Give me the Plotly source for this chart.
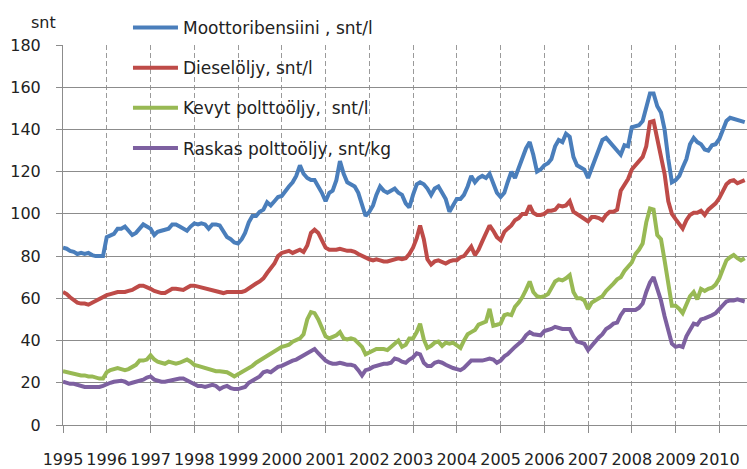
import plotly.graph_objects as go
import pandas as pd

series_names = [
    "Moottoribensiini , snt/l",
    "Dieselöljy, snt/l",
    "Kevyt polttoöljy,  snt/l",
    "Raskas polttoöljy, snt/kg",
]
series_colors = ["#4A7EBB", "#BE4B48", "#98B954", "#7D60A0"]

year_labels = [str(y) for y in range(1995, 2011)]

# Monthly values, Jan 1995 - Aug 2010
gasoline = [
    84, 83.5, 82.5, 82, 81, 81.5, 81, 81.5, 80.5, 80, 80, 80,
    89, 90, 90.5, 93, 93, 94, 92, 90, 91, 93, 95, 94,
    93, 90, 91.5, 92, 92.5, 93, 95, 95, 94, 93, 92, 94,
    95.5, 95, 95.5, 95, 93, 95, 95, 94.5, 92, 89, 88, 86.5,
    86, 88, 91, 96, 99, 99, 101, 102, 105.5, 104, 106, 108,
    108.5, 111, 113, 115, 118, 123, 119, 117, 116, 116, 113, 110,
    106, 110, 111, 116, 125, 119, 115, 114, 113, 110, 104, 99,
    101, 104, 109, 113, 111, 110, 111, 112, 110, 109, 105, 103,
    109, 114, 115, 114, 112, 109, 112, 113, 110, 107, 101, 104,
    107, 107, 109, 113, 118, 115, 117, 118, 117, 119, 114, 110,
    108, 110, 115, 120, 117, 122, 127, 131, 134, 128, 120, 121,
    123, 124, 126, 132, 135, 134, 138, 136.5, 127, 123, 122, 121,
    117, 122, 126, 131, 135, 136, 134, 132, 130, 128, 132.5, 132,
    141, 141.5, 142, 144, 150, 157, 157, 151, 148, 140, 126, 115,
    116, 118, 122, 126, 133, 136, 134, 133, 130.5, 130, 132.5, 133,
    135.5, 140, 144, 145.5, 145, 144.5, 144, 143.5,
]
diesel = [
    63, 62, 60.5, 59, 58, 57.5, 57.5, 57, 58, 58.5, 59.5, 60.5,
    61.5, 62, 62.5, 63, 63, 63, 63.5, 64, 65, 66, 66, 65.5,
    64.5, 63.5, 63, 62.5, 62.5, 63.5, 64.5, 64.5, 64, 64, 65, 66,
    66, 65.5, 65, 64.5, 64, 63.5, 63.5, 63, 62.5, 63, 63, 63,
    63, 63, 63.5, 64.5, 66, 67, 68, 69.5, 72, 74.5, 76.5, 80,
    81.5, 82, 82.5, 81.5, 82, 83, 82, 85, 91, 92.5, 91, 87,
    84, 83, 83, 83, 83.5, 83, 82.5, 82.5, 82, 81, 80, 79,
    78.5, 78, 78.5, 78, 77.5, 77.5, 78, 78.5, 79, 78.5, 79, 81,
    84, 88.5, 94.5, 88, 78.5, 76, 77.5, 78, 77, 76.5, 77.5, 78,
    78, 79.5, 80, 82, 84.5, 80.5, 83, 87, 90.5, 94.5, 92, 89,
    87.5, 91.5, 93, 94.5, 97, 98, 100, 100, 104, 100.5, 99.5, 99.5,
    100, 101.5, 101.5, 102, 104, 103.5, 104, 106, 101, 100, 99, 98,
    96.5, 98.5, 98.5, 98, 97, 99.5, 101, 101, 102, 111, 114, 116.5,
    121, 123, 125, 127, 132, 143.5, 144, 136, 128, 119, 106, 100,
    97.5, 95.5, 93, 97, 99.5, 100.5, 100.5, 101.5, 99.5, 102, 103.5, 105,
    107.5, 111, 114, 115.5, 116, 114.5, 115, 116,
]
light_fuel_oil = [
    25.5, 25, 24.5, 24, 24, 23.5, 23.5, 23, 23, 22.5, 22, 22,
    25, 26, 26.5, 27, 26.5, 26, 26.5, 27.5, 28.5, 30.5, 30.5, 31,
    33, 31, 30, 29.5, 29, 30, 29.5, 29, 29.5, 30, 31, 30,
    28.5, 28, 27.5, 27, 26.5, 26, 25.5, 25.5, 25, 25, 24, 23,
    24, 25, 26, 27, 28, 29.5, 30.5, 31.5, 33, 34, 35, 36,
    37, 37.5, 38, 39.5, 40.5, 41, 43, 50, 53.5, 53, 50, 45.5,
    42, 41, 41.5, 42.5, 44, 41, 40.5, 41, 40.5, 39, 37, 33.5,
    34.5, 35.5, 36, 36, 36, 35.5, 37, 38.5, 40, 37, 38, 41,
    41, 44, 48, 40.5, 36.5, 37.5, 39, 39.5, 37.5, 39, 38.5, 39,
    37.5, 36.5, 40, 43, 44, 45, 47.5, 48.5, 49, 55, 47, 47.5,
    48, 52, 52.5, 52, 56, 58, 60.5, 64, 68, 63, 61, 60.5,
    61, 62, 64.5, 68, 69, 68.5, 69.5, 71, 63, 60, 60, 59,
    55, 58, 59, 60, 61, 63.5, 65, 67, 69, 70, 73, 75,
    77, 81, 83, 86, 96, 102.5, 102, 90, 88, 78, 68, 56.5,
    56.5, 55, 53, 57, 61, 63, 59.5, 64.5, 63.5, 64.5, 65, 66.5,
    69.5, 74, 78, 79.5, 80.5, 79, 78, 79,
]
heavy_fuel_oil = [
    20.5, 20, 19.5, 19.5, 19, 18.5, 18, 18, 18, 18, 18, 18.5,
    19.5, 20, 20.5, 21, 21, 20.5, 19.5, 20, 20.5, 21, 21.5, 22.5,
    23, 21.5, 21, 20.5, 20.5, 21, 21, 21.5, 22, 22, 21, 20,
    19, 18.5, 18.5, 18, 18.5, 19, 18.5, 17, 18, 18.5, 17.5, 17,
    17, 17.5, 18, 20, 21, 22, 23, 25, 25.5, 25, 26.5, 27.5,
    28, 29, 29.5, 30.5, 31, 32, 32.5, 34, 35, 36, 34, 32,
    30.5, 29.5, 29, 29, 29.5, 29, 28.5, 28.5, 28, 26, 23.5, 26,
    26.5, 27.5, 28, 28.5, 29, 29, 29.5, 31.5, 31, 30, 29.5, 31,
    32, 34, 33.5, 29.5, 28, 28, 29.5, 30, 29.5, 28.5, 27.5, 27,
    26.5, 26, 27, 28.5, 30.5, 30.5, 30.5, 30.5, 31, 31.5, 31, 29.5,
    30.5, 32.5, 33.5, 35.5, 37, 38.5, 40, 42.5, 44, 43, 42.5, 42.5,
    44.5, 45, 45.5, 46.5, 46, 45.5, 45.5, 45.5, 42, 39.5, 39, 38.5,
    35.5, 37.5, 40, 41.5, 43, 45.5, 46.5, 48, 48.5, 52, 54.5, 54.5,
    54.5, 54.5, 55.5, 57.5, 63, 67.5, 70, 65, 59, 51.5, 44, 38.5,
    37, 37.5, 37, 42, 45, 48, 47.5, 50, 50.5, 51, 52, 53,
    55, 57, 58.5, 59, 59, 59.5, 59, 58.5,
]

months = pd.date_range("1995-01-01", periods=len(gasoline), freq="MS")
year_ticks = pd.to_datetime([f"{y}-01-01" for y in year_labels])

font_family = "DejaVu Sans"
fig = go.Figure()
for i, (name, vals, col) in enumerate(zip(series_names,
                                          [gasoline, diesel, light_fuel_oil, heavy_fuel_oil],
                                          series_colors)):
    fig.add_trace(go.Scatter(
        x=months, y=vals, mode="lines", name=name,
        line=dict(color=col, width=4), legendgroup=f"g{i}",
    ))

fig.update_layout(
    width=747, height=469, autosize=False,
    margin=dict(l=63, r=0, t=45, b=44, pad=0),
    paper_bgcolor="white", plot_bgcolor="white",
    font=dict(family=font_family, size=16, color="#222222"),
    showlegend=True,
    legend=dict(
        x=0.095, y=1.092, xanchor="left", yanchor="top",
        bgcolor="rgba(0,0,0,0)", borderwidth=0,
        font=dict(family=font_family, size=17, color="#222222"),
        tracegroupgap=15, itemwidth=45,
    ),
    annotations=[dict(
        text="snt", xref="paper", yref="paper", x=-0.0278, y=1.058,
        xanchor="center", yanchor="middle", showarrow=False,
        font=dict(family=font_family, size=16, color="#222222"),
    )],
)
fig.update_xaxes(
    type="date", range=["1995-01-01", "2010-08-20"],
    tickvals=year_ticks, ticktext=year_labels,
    showgrid=True, gridcolor="#9a9a9a", gridwidth=1, griddash="5px,3px",
    showline=True, linecolor="#8c8c8c", linewidth=1,
    ticks="outside", ticklen=7, tickcolor="#8c8c8c", tickwidth=1,
    ticklabelstandoff=13, zeroline=False,
    tickfont=dict(family=font_family, size=16, color="#222222"),
)
fig.update_yaxes(
    range=[0, 180], tickvals=list(range(0, 181, 20)),
    showgrid=True, gridcolor="#8c8c8c", gridwidth=1,
    showline=True, linecolor="#8c8c8c", linewidth=1,
    ticks="outside", ticklen=6, tickcolor="#8c8c8c", tickwidth=1,
    ticklabelstandoff=12, zeroline=False,
    tickfont=dict(family=font_family, size=16, color="#222222"),
)

fig.write_html("out.html",
               config={"displayModeBar": False},
               post_script="document.body.style.margin='0';document.body.style.overflow='hidden';")
